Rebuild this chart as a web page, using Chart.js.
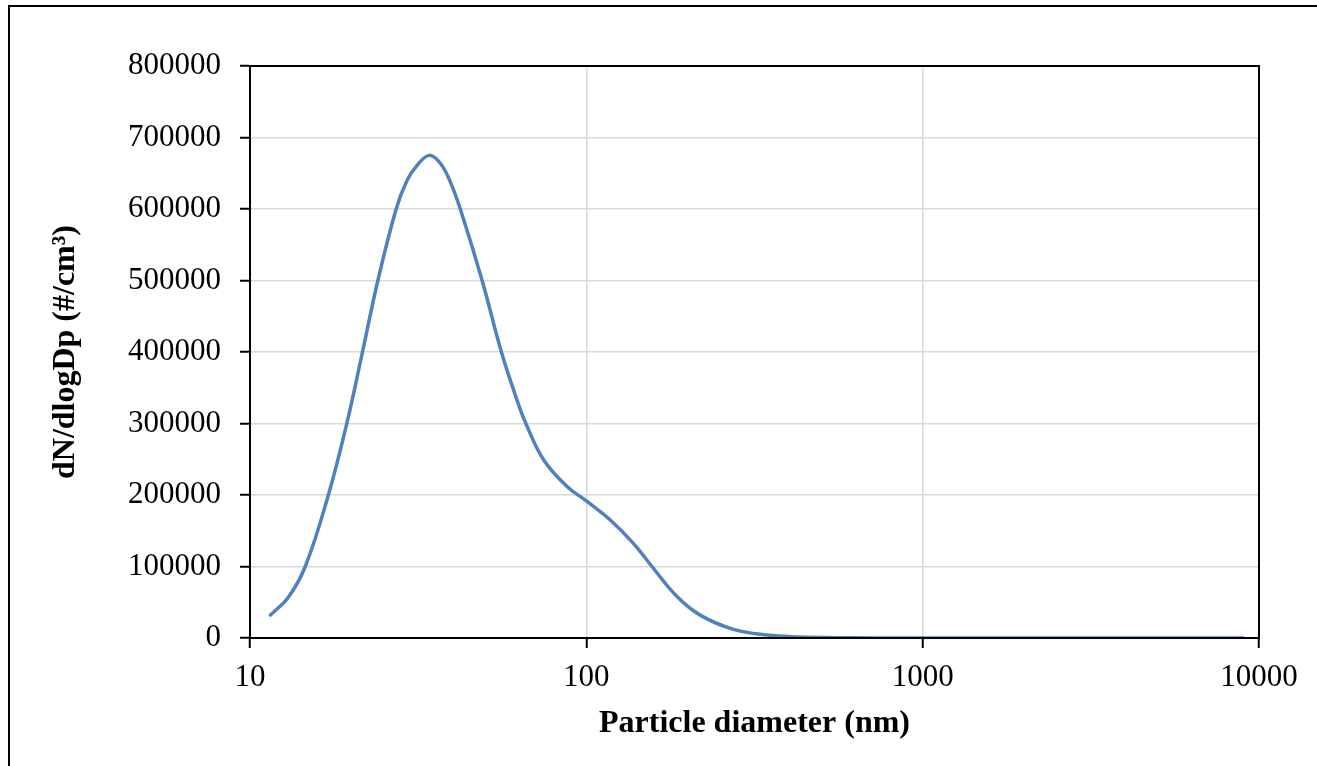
<!DOCTYPE html>
<html>
<head>
<meta charset="utf-8">
<script src="https://cdn.jsdelivr.net/npm/chart.js@4"></script>
<style>
  html, body { margin: 0; padding: 0; background: #fff; overflow: hidden; }
  #wrap { position: relative; width: 1317px; height: 766px; }
  #frame { position: absolute; left: 8px; top: 5px; width: 1400px; height: 900px; border: 2px solid #000; box-sizing: border-box; }
  canvas { position: absolute; left: 0; top: 0; }
</style>
</head>
<body>
<div id="wrap">
  <div id="frame"></div>
  <canvas id="c" width="1317" height="766"></canvas>
</div>
<script>
// Particle diameter (nm)
const diameters = [11.5, 13.0, 14.6, 17.1, 19.4, 21.6, 24.0, 27.2, 29.3, 31.4, 34.1, 36.8, 39.4, 42.2, 49.0, 55.9, 62.2, 66.1, 74.7, 87.6, 100.5, 117.8, 138.2, 156.7, 186, 218, 274, 344, 432, 550, 700, 1000, 2000, 4000, 8950];
// dN/dlogDp (#/cm3)
const concentrations = [32000, 57000, 100000, 200000, 300000, 400000, 500000, 600000, 640000, 661000, 675000, 664000, 638000, 600000, 500000, 400000, 333000, 300000, 249000, 212000, 191000, 165000, 132000, 100000, 58000, 32000, 12000, 4200, 1500, 500, 150, 30, 0, 0, 0];
const xTicks = [10, 100, 1000, 10000];
const yMin = 0, yMax = 800000, yStep = 100000;

const points = diameters.map((d, i) => ({ x: d, y: concentrations[i] }));

const framePlugin = {
  id: 'frame',
  afterDraw(chart) {
    const { ctx, chartArea: a } = chart;
    ctx.save();
    ctx.strokeStyle = '#000';
    ctx.lineWidth = 2;
    ctx.strokeRect(a.left, a.top, a.right - a.left, a.bottom - a.top);
    ctx.restore();
  }
};

new Chart(document.getElementById('c'), {
  type: 'line',
  data: {
    datasets: [{
      data: points,
      borderColor: '#4F81BD',
      borderWidth: 3.5,
      pointRadius: 0,
      fill: false,
      tension: 0.4,
      cubicInterpolationMode: 'default',
      borderCapStyle: 'round',
      borderJoinStyle: 'round'
    }]
  },
  plugins: [framePlugin],
  options: {
    responsive: false,
    animation: false,
    events: [],
    layout: { padding: { left: 0, top: 66, right: 58, bottom: 0 } },
    plugins: { legend: { display: false }, tooltip: { enabled: false } },
    scales: {
      x: {
        type: 'logarithmic',
        min: 10, max: 10000,
        afterBuildTicks(scale) { scale.ticks = xTicks.map(v => ({ value: v })); },
        afterFit(scale) { scale.height = 128; },
        ticks: {
          color: '#000',
          font: { family: 'Liberation Serif', size: 31 },
          padding: 11,
          maxRotation: 0,
          autoSkip: false,
          callback: (v) => String(v)
        },
        grid: { color: '#d9d9d9', lineWidth: 1.5, tickColor: '#000', tickLength: 10, tickWidth: 2 },
        border: { color: '#000', width: 2 },
        title: {
          display: true,
          text: 'Particle diameter (nm)',
          color: '#000',
          font: { family: 'Liberation Serif', size: 32, weight: 'bold' },
          padding: { top: 0, bottom: 23 }
        }
      },
      y: {
        min: yMin, max: yMax,
        afterFit(scale) { scale.width = 250; },
        ticks: {
          stepSize: yStep,
          color: '#000',
          font: { family: 'Liberation Serif', size: 31 },
          padding: 19,
          callback: (v) => String(v)
        },
        grid: { color: '#d9d9d9', lineWidth: 1.5, tickColor: '#000', tickLength: 10, tickWidth: 2 },
        border: { color: '#000', width: 2 },
        title: {
          display: true,
          text: 'dN/dlogDp (#/cm³)',
          color: '#000',
          font: { family: 'Liberation Serif', size: 32, weight: 'bold' },
          padding: { top: 47, bottom: 0 }
        }
      }
    }
  }
});
</script>
</body>
</html>
